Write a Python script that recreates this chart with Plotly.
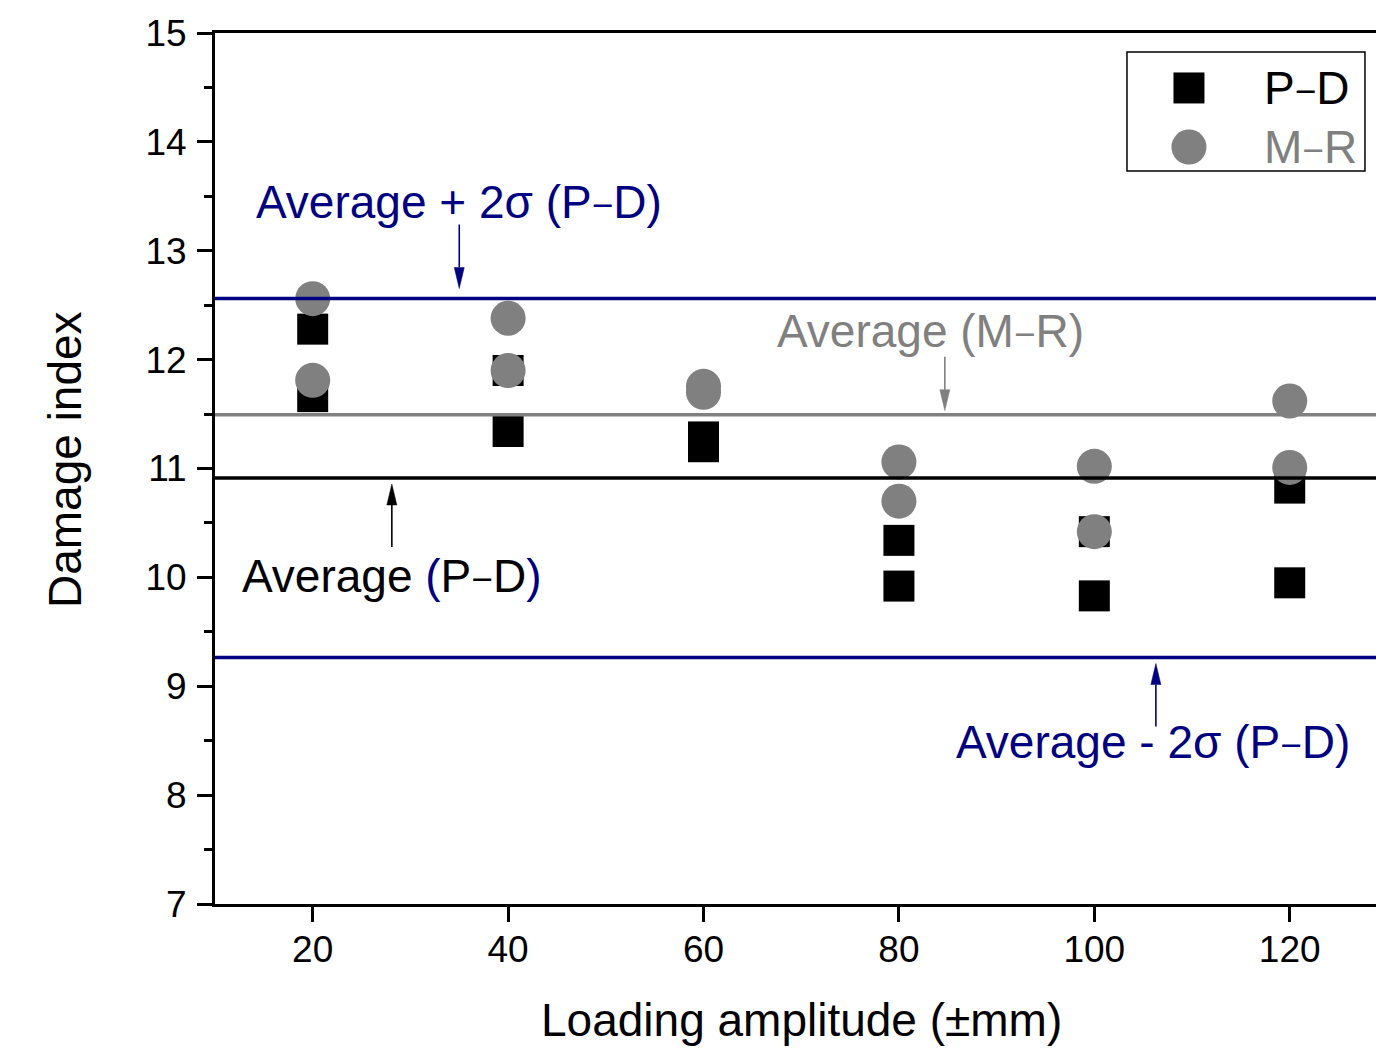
import numpy as np
import plotly.graph_objects as go

# Loading amplitudes (±mm) and damage index from the two methods
amplitude = [20, 20, 40, 40, 60, 60, 80, 80, 100, 100, 120, 120]
damage_pd = [12.28, 11.66, 11.90, 11.34, 11.29, 11.20, 10.34, 9.92, 10.42, 9.83, 10.82, 9.95]
damage_mr = [12.56, 11.81, 12.38, 11.90, 11.755, 11.70, 11.06, 10.70, 11.02, 10.42, 11.62, 11.01]

x_ticks = [20, 40, 60, 80, 100, 120]
y_ticks = [7, 8, 9, 10, 11, 12, 13, 14, 15]

NAVY = "#000080"
GRAY = "#808080"
FONT = "Liberation Sans, Arial, sans-serif"
TXT = 46
# narrow dash used in the method names
DASH = "<span style='font-size:37px'>−</span>"
PD = f"P{DASH}D"
MR = f"M{DASH}R"

# Reference levels
avg_pd = float(np.mean(damage_pd))
sd_pd = float(np.std(damage_pd, ddof=1))
avg_mr = float(np.mean(damage_mr))
upper_pd = avg_pd + 2 * sd_pd
lower_pd = avg_pd - 2 * sd_pd

fig = go.Figure()

fig.add_trace(go.Scatter(
    x=amplitude, y=damage_pd, mode="markers", name="P−D",
    marker=dict(symbol="square", size=31, color="black", line=dict(width=0)),
    showlegend=False,
))
fig.add_trace(go.Scatter(
    x=amplitude, y=damage_mr, mode="markers", name="M−R",
    marker=dict(symbol="circle", size=35, color=GRAY, line=dict(width=0)),
    showlegend=False,
))

# Horizontal reference lines (drawn over the markers)
for level, color in [(upper_pd, NAVY), (avg_mr, GRAY), (avg_pd, "black"), (lower_pd, NAVY)]:
    fig.add_shape(type="line", xref="paper", x0=0, x1=1, yref="y", y0=level, y1=level,
                  line=dict(color=color, width=3.5), layer="above")


def arrow(xval, level, gap, length, color, pointing_down):
    """Thin arrow pointing at a reference line; sizes in pixels."""
    s = 1 if pointing_down else -1
    tip = s * gap
    head = s * (gap + 21)
    tail = s * length
    common = dict(xref="x", yref="y", xsizemode="pixel", ysizemode="pixel",
                  xanchor=xval, yanchor=level, layer="above")
    fig.add_shape(type="line", x0=0, x1=0, y0=head, y1=tail,
                  line=dict(color=color, width=1.6), **common)
    fig.add_shape(type="path", path=f"M -5 {head} L 5 {head} L 0 {tip} Z",
                  fillcolor=color, line=dict(color=color, width=0.5), **common)


def label(xval, level, shift, text, color, xshift=0):
    fig.add_annotation(x=xval, y=level, xref="x", yref="y", text=text, showarrow=False,
                       xanchor="center", yanchor="middle", yshift=shift, xshift=xshift,
                       font=dict(family=FONT, size=TXT, color=color))


arrow(35, upper_pd, 10, 74, NAVY, True)
label(35, upper_pd, 97, f"Average + 2σ ({PD})", NAVY)

arrow(84.7, avg_mr, 4, 58, GRAY, True)
label(84.7, avg_mr, 84, f"Average ({MR})", GRAY, xshift=-14)

arrow(28.1, avg_pd, 6, 69, "black", False)
label(28.1, avg_pd, -98,
      f"Average <span style='color:{NAVY}'>(</span>{PD}<span style='color:{NAVY}'>)</span>", "black")

arrow(106.3, lower_pd, 6, 69, NAVY, False)
label(106.3, lower_pd, -84, f"Average - 2σ ({PD})", NAVY, xshift=-3)

# Legend box
fig.add_shape(type="rect", xref="paper", yref="paper", x0=0.7855, x1=0.9905, y0=0.8416, y1=0.9782,
              line=dict(color="black", width=1.5), fillcolor="white", layer="above")
fig.add_shape(type="rect", xref="paper", yref="paper", xsizemode="pixel", ysizemode="pixel",
              xanchor=0.8389, yanchor=0.9369, x0=-15.5, x1=15.5, y0=-15.5, y1=15.5,
              fillcolor="black", line=dict(width=0), layer="above")
fig.add_shape(type="circle", xref="paper", yref="paper", xsizemode="pixel", ysizemode="pixel",
              xanchor=0.8389, yanchor=0.8691, x0=-17.5, x1=17.5, y0=-17.5, y1=17.5,
              fillcolor=GRAY, line=dict(width=0), layer="above")
fig.add_annotation(x=0.9018, y=0.9369, xref="paper", yref="paper", text=PD, showarrow=False,
                   xanchor="left", yanchor="middle", font=dict(family=FONT, size=TXT, color="black"))
fig.add_annotation(x=0.9018, y=0.8691, xref="paper", yref="paper", text=MR, showarrow=False,
                   xanchor="left", yanchor="middle", font=dict(family=FONT, size=TXT, color=GRAY))

# Axis titles
fig.add_annotation(x=0.5052, y=-0.1332, xref="paper", yref="paper", text="Loading amplitude (±mm)",
                   showarrow=False, xanchor="center", yanchor="middle",
                   font=dict(family=FONT, size=TXT, color="black"))
fig.add_annotation(x=-0.1292, y=0.5109, xref="paper", yref="paper", text="Damage index",
                   showarrow=False, xanchor="center", yanchor="middle", textangle=-90,
                   font=dict(family=FONT, size=TXT, color="black"))

fig.update_xaxes(
    range=[10, 128.83], tickmode="array", tickvals=x_ticks, ticktext=[str(v) for v in x_ticks],
    ticks="outside", ticklen=15, tickwidth=3, tickcolor="black",
    showline=True, linewidth=3, linecolor="black", mirror=True,
    showgrid=False, zeroline=False, ticklabelstandoff=-4,
    tickfont=dict(family=FONT, size=37, color="black"),
)
fig.update_yaxes(
    range=[7, 15], tickmode="array", tickvals=y_ticks, ticktext=[str(v) for v in y_ticks],
    ticks="outside", ticklen=15, tickwidth=3, tickcolor="black",
    minor=dict(dtick=0.5, ticks="outside", ticklen=8, tickwidth=3, tickcolor="black"),
    showline=True, linewidth=3, linecolor="black", mirror=False,
    showgrid=False, zeroline=False, ticklabelstandoff=3,
    tickfont=dict(family=FONT, size=37, color="black"),
)

fig.update_layout(
    width=1376, height=1052,
    margin=dict(l=215, r=0, t=33, b=148),
    paper_bgcolor="white", plot_bgcolor="white",
    showlegend=False,
)

fig.write_html("out.html")
